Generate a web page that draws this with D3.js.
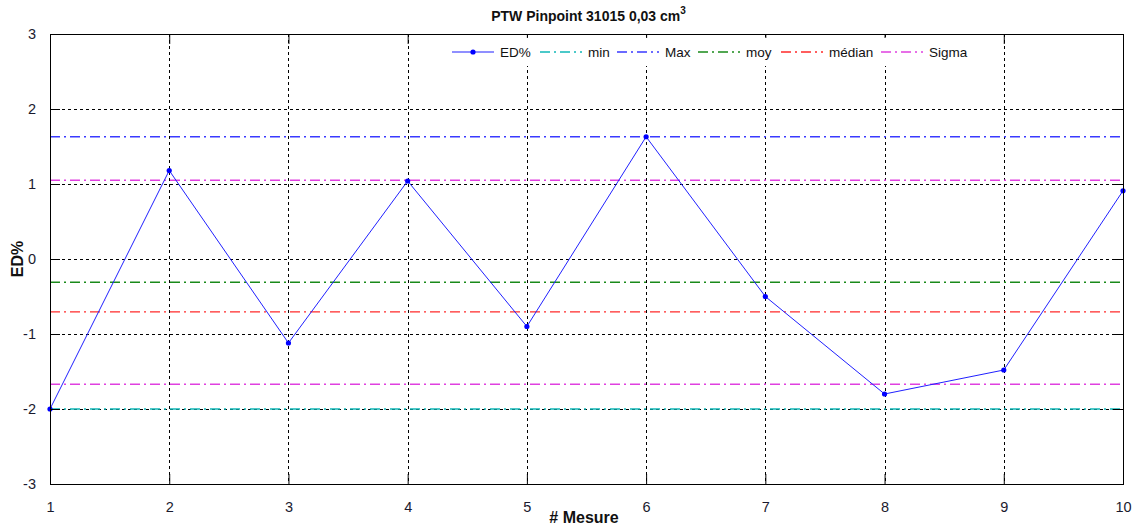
<!DOCTYPE html>
<html>
<head>
<meta charset="utf-8">
<script src="https://cdn.jsdelivr.net/npm/d3@7"></script>
<style>
  html, body { margin: 0; padding: 0; background: #fff; }
  svg { display: block; font-family: "Liberation Sans", Arial, sans-serif; }
</style>
</head>
<body>
<svg id="chart" width="1132" height="526"></svg>
<script>
// ---- data ----
const mesures = [1, 2, 3, 4, 5, 6, 7, 8, 9, 10];
const edPct = [-2.0, 1.18, -1.12, 1.04, -0.90, 1.63, -0.50, -1.80, -1.48, 0.91];
const xTicks = [1, 2, 3, 4, 5, 6, 7, 8, 9, 10];
const yTicks = [-3, -2, -1, 0, 1, 2, 3];
const refNames = ["min", "Max", "moy", "médian", "Sigma", "Sigma"];
const refValues = [-2.0, 1.63, -0.31, -0.705, 1.05, -1.67];
const refColors = ["#10b8b8", "#3a3aff", "#1a8a1a", "#ff2a2a", "#e040e0", "#e040e0"];
const legendLabels = ["ED%", "min", "Max", "moy", "médian", "Sigma"];
const legendColors = ["#2020ff", "#10b8b8", "#3a3aff", "#1a8a1a", "#ff2a2a", "#e040e0"];

// ---- layout ----
const L = 50, R = 1123, T = 34, B = 484;
const svg = d3.select("#chart");
const x = d3.scaleLinear().domain([1, 10]).range([L, R]);
const y = d3.scaleLinear().domain([-3, 3]).range([B, T]);
const dashDot = "10,4,2,4";

// grid
const grid = svg.append("g").attr("stroke", "#000").attr("stroke-width", 1)
  .attr("stroke-dasharray", "3,3").attr("shape-rendering", "crispEdges");
grid.selectAll("line.v").data(xTicks.slice(1, -1)).join("line")
  .attr("x1", d => Math.round(x(d)) + 0.5).attr("x2", d => Math.round(x(d)) + 0.5)
  .attr("y1", T).attr("y2", B);
grid.selectAll("line.h").data(yTicks.slice(1, -1)).join("line")
  .attr("y1", d => Math.round(y(d)) + 0.5).attr("y2", d => Math.round(y(d)) + 0.5)
  .attr("x1", L).attr("x2", R);

// reference lines
svg.append("g").selectAll("line").data(refValues).join("line")
  .attr("x1", L).attr("x2", R)
  .attr("y1", d => y(d)).attr("y2", d => y(d))
  .attr("stroke", (d, i) => refColors[i]).attr("stroke-width", 1.4)
  .attr("stroke-dasharray", dashDot);

// data line
const line = d3.line().x((d, i) => x(mesures[i])).y(d => y(d));
svg.append("path").datum(edPct).attr("d", line)
  .attr("fill", "none").attr("stroke", "#2020ff").attr("stroke-width", 1);
svg.append("g").selectAll("circle").data(edPct).join("circle")
  .attr("cx", (d, i) => x(mesures[i])).attr("cy", d => y(d)).attr("r", 2.6)
  .attr("fill", "#0000ff");

// axes with inner ticks (left & bottom, mirrored on top & right)
const fmt = d => String(d);
const axL = d3.axisLeft(y).tickValues(yTicks).tickSizeInner(-10).tickSizeOuter(0).tickPadding(14).tickFormat(fmt);
const axR = d3.axisRight(y).tickValues(yTicks).tickSizeInner(-10).tickSizeOuter(0).tickFormat("");
const axB = d3.axisBottom(x).tickValues(xTicks).tickSizeInner(-10).tickSizeOuter(0).tickPadding(18).tickFormat(fmt);
const axT = d3.axisTop(x).tickValues(xTicks).tickSizeInner(-10).tickSizeOuter(0).tickFormat("");

function styleAxis(g) {
  g.select(".domain").remove();
  g.selectAll(".tick line").attr("stroke", "#000");
  g.selectAll(".tick text").attr("fill", "#1a1a2e").attr("font-size", 14.5)
    .attr("font-family", "Liberation Sans, Arial, sans-serif");
}
svg.append("g").attr("transform", `translate(${L},0)`).call(axL).call(styleAxis);
svg.append("g").attr("transform", `translate(${R},0)`).call(axR).call(styleAxis);
svg.append("g").attr("transform", `translate(0,${B})`).call(axB).call(styleAxis);
svg.append("g").attr("transform", `translate(0,${T})`).call(axT).call(styleAxis);

// legend (white background, no border)
const legX = [452, 540, 617, 698, 781, 881];
const lg = svg.append("g");
lg.append("rect").attr("x", 446).attr("y", 38).attr("width", 528).attr("height", 28).attr("fill", "#fff");
legendLabels.forEach((lab, i) => {
  const g = lg.append("g").attr("transform", `translate(${legX[i]},52)`);
  g.append("line").attr("x1", 0).attr("x2", 42).attr("y1", 0).attr("y2", 0)
    .attr("stroke", legendColors[i]).attr("stroke-width", i === 0 ? 1.2 : 1.4)
    .attr("stroke-dasharray", i === 0 ? null : dashDot);
  if (i === 0) g.append("circle").attr("cx", 21).attr("cy", 0).attr("r", 2.6).attr("fill", "#0000ff");
  g.append("text").attr("x", 48).attr("y", 5).attr("font-size", 13.5).attr("fill", "#111").text(lab);
});

// plot box
svg.append("rect").attr("x", L + 0.5).attr("y", T + 0.5).attr("width", R - L).attr("height", B - T)
  .attr("fill", "none").attr("stroke", "#000").attr("stroke-width", 1);

// title
const title = svg.append("text").attr("x", (L + R) / 2 + 2).attr("y", 21).attr("text-anchor", "middle")
  .attr("font-size", 14).attr("font-weight", "bold").attr("fill", "#111");
title.append("tspan").text("PTW Pinpoint 31015 0,03 cm");
title.append("tspan").attr("dy", -7).attr("font-size", 10).text("3");

// axis labels
svg.append("text").attr("x", 584).attr("y", 523).attr("text-anchor", "middle")
  .attr("font-size", 16).attr("font-weight", "bold").attr("fill", "#111").text("# Mesure");
svg.append("text").attr("transform", "translate(23,259) rotate(-90)").attr("text-anchor", "middle")
  .attr("font-size", 16).attr("font-weight", "bold").attr("fill", "#111").text("ED%");
</script>
</body>
</html>
